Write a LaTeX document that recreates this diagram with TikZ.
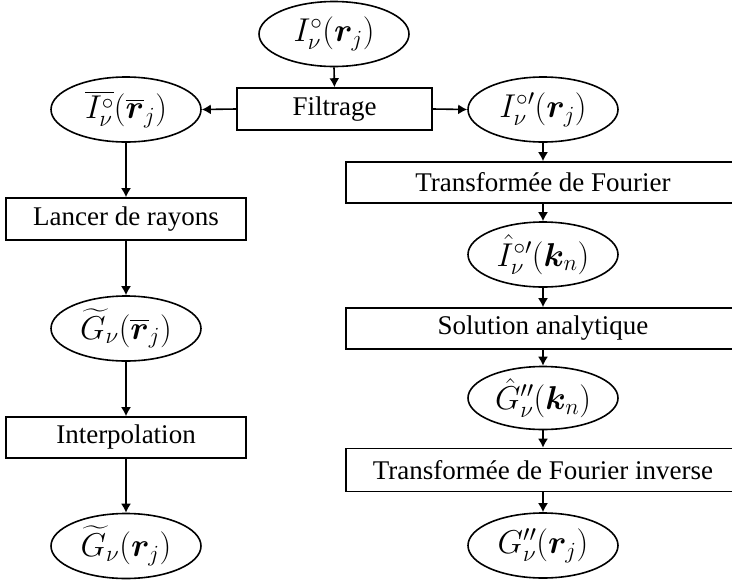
\RequirePackage{fix-cm}
\documentclass[tikz,border=0pt]{standalone}
\usepackage{amsmath}
\usepackage{bm}
\usepackage[no-math]{fontspec}
\setmainfont{Liberation Serif}
\usetikzlibrary{shapes.geometric,arrows.meta}
\begin{document}
\begin{tikzpicture}[x=1pt,y=-1pt,
  every node/.style={font=\fontsize{27}{32}\selectfont},
  ell/.style={draw,ellipse,line width=1.6pt,minimum width=150pt,minimum height=65pt,inner sep=0pt,font=\fontsize{33}{40}\selectfont},
  proc/.style={draw,rectangle,line width=1.6pt,inner sep=0pt,minimum height=42pt},
  lbox/.style={proc,minimum width=240pt},
  rbox/.style={proc,minimum width=394pt},
  arr/.style={line width=1.6pt,-{Latex[length=9pt,width=10pt]}}]
\clip (0,0) rectangle (732,582);
\node[ell] (top) at (334,34) {$I^{\circ}_{\nu}(\bm{r}_j)$};
\node[proc,minimum width=195pt] (filt) at (334.5,109) {Filtrage};
\node[ell] (lbar) at (126,109.5) {$\overline{I^{\circ}_{\nu}}(\overline{\bm{r}}_j)$};
\node[ell] (rpr) at (543,109.5) {$I^{\circ\prime}_{\nu}(\bm{r}_j)$};
\node[lbox] (lancer) at (126,219) {Lancer de rayons};
\node[ell] (gtb) at (126,328.5) {$\widetilde{G}_{\nu}(\overline{\bm{r}}_j)$};
\node[lbox,minimum height=41pt] (interp) at (126,437.5) {Interpolation};
\node[ell] (gtr) at (126,546) {$\widetilde{G}_{\nu}(\bm{r}_j)$};
\node[rbox,minimum height=41pt] (tf) at (543,182.5) {Transformée de Fourier};
\node[ell] (ihat) at (543,254.5) {$\hat{I}^{\circ\prime}_{\nu}(\bm{k}_n)$};
\node[rbox,minimum height=41pt] (sol) at (543,328.5) {Solution analytique};
\node[ell,minimum height=63pt] (ghat) at (543,398) {$\hat{G}''_{\nu}(\bm{k}_n)$};
\node[rbox,minimum height=43pt] (tfi) at (543,470) {Transformée de Fourier inverse};
\node[ell] (g2) at (543,545.5) {$G''_{\nu}(\bm{r}_j)$};
\draw[arr] (top.south) -- (filt.north);
\draw[arr] (filt.west) -- (lbar.east);
\draw[arr] (filt.east) -- (rpr.west);
\draw[arr] (lbar.south) -- (lancer.north);
\draw[arr] (lancer.south) -- (gtb.north);
\draw[arr] (gtb.south) -- (interp.north);
\draw[arr] (interp.south) -- (gtr.north);
\draw[arr] (rpr.south) -- (tf.north);
\draw[arr] (tf.south) -- (ihat.north);
\draw[arr] (ihat.south) -- (sol.north);
\draw[arr] (sol.south) -- (ghat.north);
\draw[arr] (ghat.south) -- (tfi.north);
\draw[arr] (tfi.south) -- (g2.north);
\end{tikzpicture}
\end{document}
